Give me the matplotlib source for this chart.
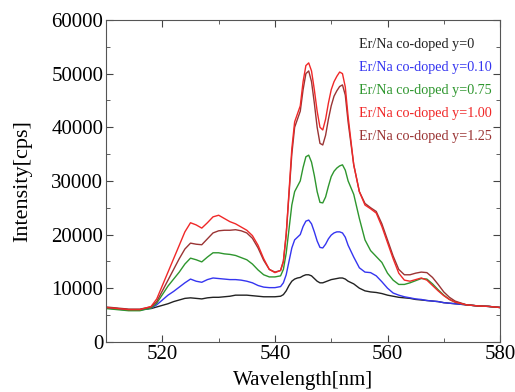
import matplotlib.pyplot as plt
from matplotlib.ticker import MultipleLocator

plt.rcParams['font.family'] = ['Liberation Serif', 'DejaVu Serif']

# Data
wavelength = [510, 512, 514, 516, 518,
              519, 520, 521, 522, 523, 524, 525, 526, 527, 528, 529, 530, 531, 532, 533,
              534, 535, 536, 537, 538, 539, 540, 541,
              541.5, 542, 542.5, 543, 543.5, 544, 544.5, 545, 545.5, 546, 546.5, 547,
              547.5, 548, 548.5, 549, 549.5, 550, 550.5, 551, 551.5, 552, 552.5, 553,
              554, 555, 556, 557, 558, 559, 560, 561, 562, 563, 564, 565, 566, 567, 568,
              569, 570, 571, 572,
              574, 576, 578, 580]

y_0 = [6300, 6200, 6000, 6000, 6200,
       6500, 6800, 7100, 7500, 7800, 8100, 8200, 8100, 8000, 8200, 8300, 8300, 8400, 8500, 8700,
       8700, 8700, 8600, 8500, 8400, 8400, 8400, 8500,
       8800, 9500, 10500, 11300, 11700, 11900, 12000, 12300, 12500, 12500, 12300, 11800,
       11300, 11000, 11000, 11200, 11400, 11600, 11700, 11800, 11900, 11900, 11700, 11300,
       10800, 10000, 9500, 9300, 9200, 9000, 8700, 8500, 8300, 8200, 8100, 7900, 7800, 7700, 7600,
       7500, 7300, 7200, 7100,
       6900, 6700, 6600, 6400]

y_010 = [6300, 6100, 5900, 5900, 6300,
         6900, 7800, 8700, 9400, 10200, 11000, 11700, 11300, 11100, 11600, 11900, 11800, 11700, 11600, 11600,
         11500, 11300, 11000, 10500, 10200, 10100, 10100, 10300,
         11000, 12500, 15000, 17500, 19000, 19500, 20000, 21500, 22500, 22700, 22000, 20500,
         18800, 17600, 17500, 18200, 19200, 19900, 20300, 20500, 20500, 20300, 19500, 18000,
         15800, 13800, 13000, 12900, 12300, 11200, 10000, 9100, 8700, 8400, 8200, 8000, 7900, 7700, 7600,
         7500, 7300, 7200, 7100,
         6900, 6700, 6600, 6400]

y_075 = [6200, 6000, 5800, 5800, 6300,
         7200, 8800, 10400, 11700, 13000, 14500, 15600, 15300, 14900, 15800, 16600, 16600, 16400, 16300, 16100,
         15700, 15300, 14500, 13400, 12500, 12100, 12100, 12300,
         13500, 16500, 21000, 25500, 28000, 29000, 30000, 32500, 34500, 34800, 33500, 31000,
         28000, 26000, 25900, 27000, 29000, 30800, 31800, 32400, 32800, 33000, 32000, 30000,
         27500, 23000, 19000, 17000, 15900, 14800, 12800, 11500, 10700, 10700, 11000, 11400, 11800, 11700, 10800,
         9700, 8700, 7900, 7400,
         6900, 6700, 6600, 6400]

y_100 = [6400, 6200, 6000, 6000, 6600,
         8000, 10500, 13000, 15500, 18000, 20500, 22200, 21800, 21200, 22200, 23300, 23600, 23000, 22400, 22000,
         21400, 20800, 19800, 18000, 15500, 13500, 12900, 13300,
         15000, 20000, 28000, 36000, 41000, 42500, 44000, 48500, 51500, 52000, 50500, 47000,
         43000, 40000, 39500, 41500, 44500, 47000, 48500, 49500, 50300, 50000, 47500, 42000,
         33000, 28000, 25500, 24800, 24000, 21500, 18500, 15500, 12800, 11500, 11300, 11600, 11900, 11500, 10500,
         9500, 8600, 7900, 7400,
         6900, 6700, 6600, 6400]

y_125 = [6500, 6300, 6100, 6100, 6500,
         7500, 9500, 11500, 13500, 15500, 17300, 18400, 18200, 18100, 19200, 20300, 20700, 20800, 20800, 20900,
         20700, 20300, 19300, 17500, 15200, 13500, 13000, 13300,
         15000, 20000, 27500, 35000, 40000, 41500, 43000, 47000, 50000, 50500, 48500, 44500,
         40000, 37000, 36700, 38500, 41500, 44000, 45800, 46800, 47600, 47900, 46000, 41000,
         33000, 28000, 25800, 25000, 24300, 22000, 19000, 16000, 13500, 12500, 12500, 12800, 13000, 12900, 12000,
         10700, 9300, 8300, 7600,
         6900, 6700, 6600, 6400]

labels = ['Er/Na co-doped y=0', 'Er/Na co-doped y=0.10', 'Er/Na co-doped y=0.75',
          'Er/Na co-doped y=1.00', 'Er/Na co-doped y=1.25']
series = [y_0, y_010, y_075, y_100, y_125]
colors = ['#222222', '#3535f0', '#2e962e', '#f02828', '#9a3434']

fig = plt.figure(figsize=(5.15, 3.92), dpi=100)
ax = fig.add_axes([0.206, 0.128, 0.765, 0.821])

# draw order: keep red on top like the original
for idx in [0, 1, 2, 4, 3]:
    ax.plot(wavelength, series[idx], color=colors[idx], lw=1.0, label=labels[idx])

ax.set_xlim(510, 580)
ax.set_ylim(0, 60000)
ax.xaxis.set_major_locator(MultipleLocator(20))
ax.xaxis.set_minor_locator(MultipleLocator(10))
ax.yaxis.set_major_locator(MultipleLocator(10000))
ax.yaxis.set_minor_locator(MultipleLocator(5000))
ax.tick_params(direction='in', which='both', top=True, right=True,
               labelsize=15, color='#444444')
ax.tick_params(which='major', length=5, pad=2)
ax.tick_params(which='minor', length=3)
for sp in ax.spines.values():
    sp.set_color('#555555')

ax.set_xlabel('Wavelength[nm]', fontsize=15, labelpad=5)
ax.set_ylabel('Intensity[cps]', fontsize=16, labelpad=14)

# text-only legend, coloured labels
handles, hl = ax.get_legend_handles_labels()
order = [hl.index(l) for l in labels]
leg = ax.legend([handles[i] for i in order], labels, loc='upper right',
                frameon=False, handlelength=0, handletextpad=0, fontsize=10.2,
                labelspacing=0.7, bbox_to_anchor=(1.0, 0.97), borderaxespad=0.2)
for txt, c in zip(leg.get_texts(), colors):
    txt.set_color(c)
for h in leg.legend_handles:
    h.set_visible(False)

plt.savefig('out.png', dpi=100)
